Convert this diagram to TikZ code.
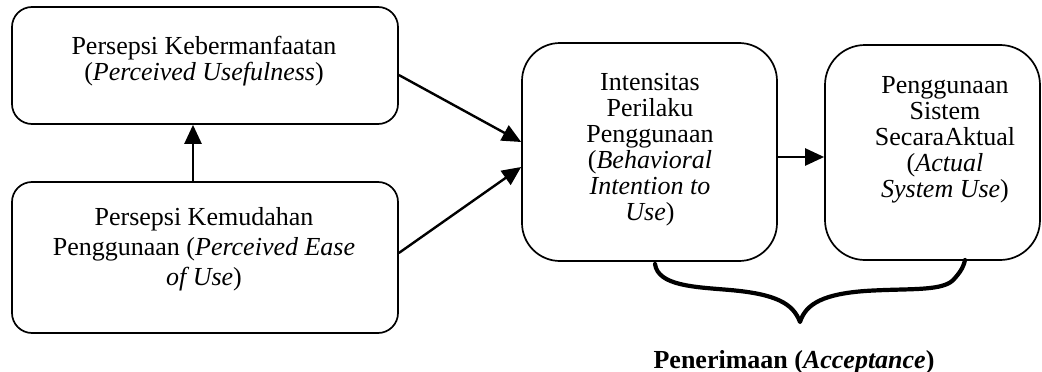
\documentclass[tikz,border=0pt]{standalone}
\usepackage{fontspec}
\setmainfont{Liberation Serif}
\usetikzlibrary{arrows.meta}
\begin{document}
\begin{tikzpicture}[x=1pt,y=-1pt,
  box/.style={draw, line width=1.7pt, inner sep=0pt},
  txt/.style={align=center, inner sep=0pt, font=\fontsize{26}{26}\selectfont},
  arr/.style={line width=2.4pt, -{Triangle[length=19pt,width=17pt]}},
  brace/.style={line width=4.2pt, line cap=round, line join=round}]
\useasboundingbox[fill=white] (0,0) rectangle (1042,372);
% boxes
\node[box, rounded corners=20pt, minimum width=386pt, minimum height=117pt] (pu) at (205,65.5) {};
\node[box, rounded corners=20pt, minimum width=386pt, minimum height=151pt] (pe) at (205,257.5) {};
\node[box, rounded corners=38pt, minimum width=255pt, minimum height=218pt] (bi) at (649.5,152) {};
\node[box, rounded corners=40pt, minimum width=215pt, minimum height=215pt] (asu) at (932.5,152.5) {};
% texts
\node[txt] (t1) at (204,61) {Persepsi Kebermanfaatan\\(\textit{Perceived Usefulness})};
\node[txt, font=\fontsize{26}{30}\selectfont] (t2) at (204,249) {Persepsi Kemudahan\\Penggunaan (\textit{Perceived Ease}\\\textit{of Use})};
\node[txt] (t3) at (650,150) {Intensitas\\Perilaku\\Penggunaan\\(\textit{Behavioral}\\\textit{Intention to}\\\textit{Use})};
\node[txt] (t4) at (945,139.5) {Penggunaan\\Sistem\\SecaraAktual\\(\textit{Actual}\\\textit{System Use})};
% connectors
\draw[arr] (pu.east |- 0,75) -- (bi.west |- 0,142);
\draw[arr] (pe.east |- 0,253) -- (bi.west |- 0,167);
\draw[arr] (pe.north -| 193,0) -- (pu.south -| 193,0);
\draw[arr] (bi.east |- 0,157) -- (asu.west |- 0,157);
% brace
\coordinate (bl) at (655,264);
\coordinate (bt) at (800,322);
\coordinate (br) at (965,260);
\draw[brace] (bl) .. controls (658,286) and (695,287) .. (730,290)
  .. controls (775,294) and (793,303) .. (bt)
  .. controls (806,303) and (825,294) .. (865,291)
  .. controls (910,288) and (945,292) .. (955,278)
  .. controls (962,270) and (964,265) .. (br);
\node[inner sep=0pt, font=\fontsize{26}{28}\selectfont\bfseries] (acc) at (794,362) {Penerimaan (\textit{Acceptance})};
\end{tikzpicture}
\end{document}
